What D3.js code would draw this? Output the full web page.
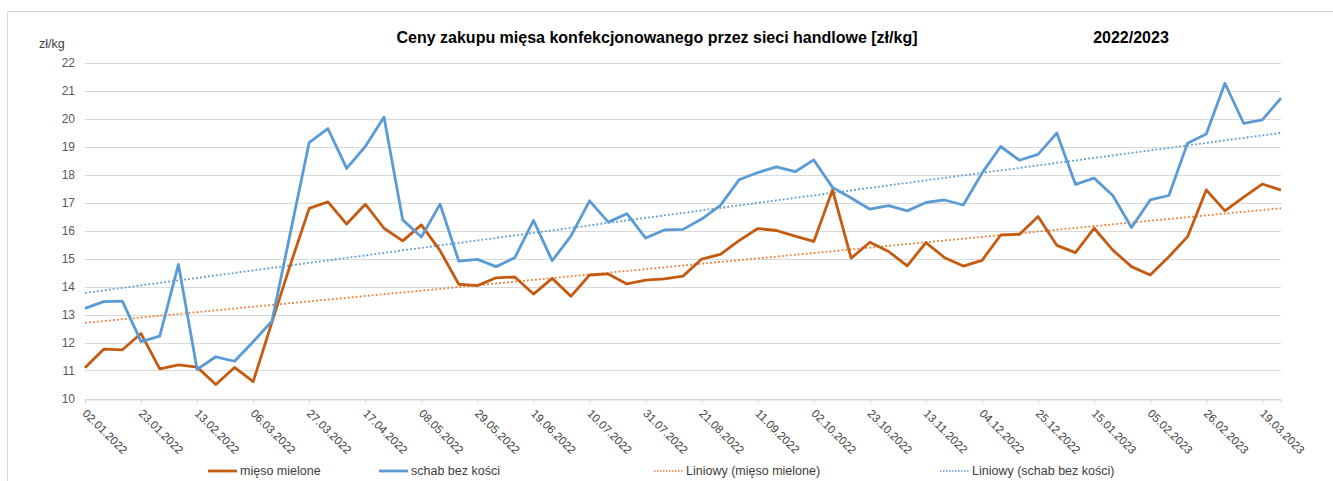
<!DOCTYPE html>
<html>
<head>
<meta charset="utf-8">
<script src="https://cdn.jsdelivr.net/npm/d3@7"></script>
<style>
  body { margin: 0; background: #fff; }
  svg { display: block; font-family: "Liberation Sans", Arial, sans-serif; }
</style>
</head>
<body>
<svg id="chart" width="1333" height="481"></svg>
<script>
// weekly categories, 02.01.2022 .. 26.03.2023 (65 weeks)
var startDate = new Date(2022, 0, 2);
var weeks = d3.range(65).map(function(i) { return d3.timeWeek.offset(startDate, i); });
var fmt = d3.timeFormat('%d.%m.%Y');
var categories = weeks.map(fmt);

// labelled every third week
var tickLabels = ['02.01.2022', '23.01.2022', '13.02.2022', '06.03.2022', '27.03.2022', '17.04.2022',
    '08.05.2022', '29.05.2022', '19.06.2022', '10.07.2022', '31.07.2022', '21.08.2022', '11.09.2022',
    '02.10.2022', '23.10.2022', '13.11.2022', '04.12.2022', '25.12.2022', '15.01.2023', '05.02.2023',
    '26.02.2023', '19.03.2023'];

// mięso mielone [zł/kg]
var mieso = [11.10, 11.76, 11.74, 12.32, 11.06, 11.20, 11.12, 10.50, 11.11, 10.60,
    12.72, 14.80, 16.79, 17.02, 16.23, 16.94, 16.08, 15.63, 16.20, 15.28,
    14.08, 14.03, 14.31, 14.34, 13.73, 14.29, 13.65, 14.41, 14.45, 14.09,
    14.23, 14.27, 14.37, 14.98, 15.15, 15.64, 16.07, 16.00, 15.80, 15.61,
    17.45, 15.01, 15.58, 15.25, 14.74, 15.57, 15.03, 14.73, 14.93, 15.84,
    15.86, 16.50, 15.47, 15.21, 16.08, 15.30, 14.71, 14.41, 15.06, 15.78,
    17.45, 16.70, 17.19, 17.66, 17.44];

// schab bez kości [zł/kg]
var schab = [13.22, 13.46, 13.48, 12.03, 12.23, 14.79, 11.04, 11.49, 11.33, 12.03,
    12.76, 15.95, 19.15, 19.64, 18.22, 19.00, 20.05, 16.38, 15.77, 16.94,
    14.91, 14.97, 14.71, 15.03, 16.36, 14.92, 15.80, 17.06, 16.30, 16.60,
    15.73, 16.02, 16.04, 16.41, 16.90, 17.81, 18.07, 18.27, 18.10, 18.52,
    17.54, 17.16, 16.76, 16.89, 16.70, 17.00, 17.09, 16.91, 18.05, 19.00,
    18.51, 18.72, 19.48, 17.65, 17.87, 17.25, 16.11, 17.09, 17.25, 19.12,
    19.45, 21.26, 19.83, 19.95, 20.73];

var yTicks = [10, 11, 12, 13, 14, 15, 16, 17, 18, 19, 20, 21, 22];

var series = [
    { name: 'mięso mielone', values: mieso, color: '#C55A11', trendColor: '#ED7D31' },
    { name: 'schab bez kości', values: schab, color: '#5B9BD5', trendColor: '#5B9BD5' }
];

// least squares line over the category index, like Excel's linear trendline
function linearFit(values) {
    var mx = d3.mean(values, function(d, i) { return i + 1; });
    var my = d3.mean(values);
    var sxy = 0, sxx = 0;
    values.forEach(function(v, i) {
        sxy += (i + 1 - mx) * (v - my);
        sxx += (i + 1 - mx) * (i + 1 - mx);
    });
    var b = sxy / sxx;
    return function(i) { return my + b * (i + 1 - mx); };
}

var svg = d3.select('#chart');

// chart area border (left + top only visible)
svg.append('path')
    .attr('d', 'M7.5,481 V11.5 H1333')
    .attr('fill', 'none')
    .attr('stroke', '#d9d9d9')
    .attr('stroke-width', 1);

var x = d3.scalePoint().domain(categories).range([85, 1281]);
var y = d3.scaleLinear().domain([10, 22]).range([398.5, 62.5]);

// gridlines
svg.append('g')
    .selectAll('line')
    .data(yTicks)
    .enter().append('line')
    .attr('x1', 85).attr('x2', 1281)
    .attr('y1', function(d) { return Math.round(y(d)) + 0.5; })
    .attr('y2', function(d) { return Math.round(y(d)) + 0.5; })
    .attr('stroke', '#d9d9d9')
    .attr('stroke-width', 1);

// y axis labels
var yAxis = d3.axisLeft(y).tickValues(yTicks).tickSize(0).tickPadding(10);
svg.append('g')
    .attr('transform', 'translate(85,0)')
    .call(yAxis)
    .call(function(g) { g.select('.domain').remove(); })
    .selectAll('text')
    .attr('fill', '#595959')
    .style('font-size', '12px')
    .style('font-family', '"Liberation Sans", Arial, sans-serif');

// x axis
var xAxis = d3.axisBottom(x).tickValues(tickLabels).tickSize(4).tickPadding(0);
var gx = svg.append('g')
    .attr('transform', 'translate(0,' + (Math.round(y(10)) + 0.5) + ')')
    .call(xAxis);
gx.select('.domain').attr('stroke', '#d9d9d9');
gx.selectAll('.tick line').attr('stroke', '#d9d9d9');
gx.selectAll('.tick text')
    .attr('fill', '#404040')
    .style('font-size', '11.5px')
    .style('font-family', '"Liberation Sans", Arial, sans-serif')
    .attr('text-anchor', 'start')
    .attr('dy', '0.35em')
    .attr('transform', 'translate(2,9) rotate(45)');

// trendlines
series.forEach(function(s) {
    var f = linearFit(s.values);
    svg.append('line')
        .attr('x1', x(categories[0]))
        .attr('y1', y(f(0)))
        .attr('x2', x(categories[categories.length - 1]))
        .attr('y2', y(f(categories.length - 1)))
        .attr('stroke', s.trendColor)
        .attr('stroke-width', 1.8)
        .attr('stroke-dasharray', '1.8,2.2');
});

// data lines
var line = d3.line()
    .x(function(d, i) { return x(categories[i]); })
    .y(function(d) { return y(d); });

series.forEach(function(s) {
    svg.append('path')
        .datum(s.values)
        .attr('fill', 'none')
        .attr('stroke', s.color)
        .attr('stroke-width', 2.8)
        .attr('stroke-linejoin', 'round')
        .attr('d', line);
});

// titles
svg.append('text')
    .attr('x', 657).attr('y', 43)
    .attr('text-anchor', 'middle')
    .style('font-size', '16px')
    .style('font-weight', 'bold')
    .attr('fill', '#000')
    .text('Ceny zakupu mięsa konfekcjonowanego przez sieci handlowe [zł/kg]');

svg.append('text')
    .attr('x', 1131).attr('y', 43)
    .attr('text-anchor', 'middle')
    .style('font-size', '16px')
    .style('font-weight', 'bold')
    .attr('fill', '#000')
    .text('2022/2023');

svg.append('text')
    .attr('x', 39).attr('y', 48)
    .style('font-size', '12.5px')
    .attr('fill', '#404040')
    .text('zł/kg');

// legend
var legendItems = [
    { label: 'mięso mielone', color: '#C55A11', dash: null, x: 208 },
    { label: 'schab bez kości', color: '#5B9BD5', dash: null, x: 379 },
    { label: 'Liniowy (mięso mielone)', color: '#ED7D31', dash: '1.5,1.5', x: 654 },
    { label: 'Liniowy (schab bez kości)', color: '#5B9BD5', dash: '1.5,1.5', x: 940 }
];
var lg = svg.append('g').selectAll('g')
    .data(legendItems)
    .enter().append('g')
    .attr('transform', function(d) { return 'translate(' + d.x + ',471)'; });
lg.append('line')
    .attr('x1', 0).attr('x2', 29)
    .attr('stroke', function(d) { return d.color; })
    .attr('stroke-width', function(d) { return d.dash ? 1.5 : 2.8; })
    .attr('stroke-dasharray', function(d) { return d.dash; });
lg.append('text')
    .attr('x', 32).attr('dy', '0.35em')
    .style('font-size', '12.5px')
    .attr('fill', '#404040')
    .text(function(d) { return d.label; });
</script>
</body>
</html>
